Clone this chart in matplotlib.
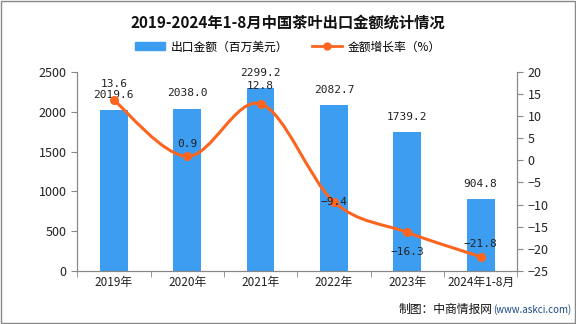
import numpy as np
import matplotlib
matplotlib.use('Agg')
import matplotlib.pyplot as plt
from matplotlib.path import Path
from matplotlib.patches import PathPatch, Patch
from matplotlib.lines import Line2D

plt.rcParams['font.family'] = ['Noto Sans CJK SC', 'DejaVu Sans']
plt.rcParams['axes.unicode_minus'] = False

categories = ['2019年', '2020年', '2021年', '2022年', '2023年', '2024年1-8月']
export_value = [2019.6, 2038.0, 2299.2, 2082.7, 1739.2, 904.8]
growth_rate = [13.6, 0.9, 12.8, -9.4, -16.3, -21.8]

bar_color = '#3d9df0'
line_color = '#fc6520'

fig = plt.figure(figsize=(5.76, 3.24), dpi=100)
ax = fig.add_axes([0.134, 0.164, 0.764, 0.614])
ax2 = ax.twinx()

x = np.arange(len(categories))
ax.bar(x, export_value, width=0.38, color=bar_color, zorder=2)
ax.set_xlim(-0.5, len(categories) - 0.5)
ax.set_ylim(0, 2500)
ax.set_yticks(range(0, 2501, 500))
ax.set_xticks(x)
ax.set_xticklabels(categories, fontsize=8.5)
ax2.set_ylim(-25, 20)
ax2.set_yticks(range(-25, 21, 5))
ax2.set_yticklabels([str(v).replace('-', '−') for v in range(-25, 21, 5)])

for a in (ax, ax2):
    a.spines['top'].set_visible(False)
    a.tick_params(colors='#888888', labelcolor='#222222', labelsize=9, length=4, width=0.8)
    for s in ('left', 'right', 'bottom'):
        a.spines[s].set_color('#888888')
ax.tick_params(axis='x', labelsize=8.5)
ax.set_xticks(np.arange(-0.5, len(categories), 1.0), minor=True)
ax.tick_params(axis='x', which='major', length=0)
ax.tick_params(axis='x', which='minor', length=4, color='#888888')

# smooth curve through the points (Catmull-Rom as cubic Bezier)
pts = np.column_stack([x, growth_rate]).astype(float)
verts = [tuple(pts[0])]
codes = [Path.MOVETO]
for i in range(len(pts) - 1):
    p0 = pts[i - 1] if i > 0 else pts[i]
    p1, p2 = pts[i], pts[i + 1]
    p3 = pts[i + 2] if i + 2 < len(pts) else pts[i + 1]
    c1 = p1 + (p2 - p0) / 6.0
    c2 = p2 - (p3 - p1) / 6.0
    verts += [tuple(c1), tuple(c2), tuple(p2)]
    codes += [Path.CURVE4] * 3
ax2.add_patch(PathPatch(Path(verts, codes), fill=False, edgecolor=line_color, lw=2.2, zorder=3))
ax2.plot(x, growth_rate, 'o', color=line_color, ms=5.5, zorder=4)

for xi, v in zip(x, export_value):
    ax.annotate(f'{v:.1f}', (xi, v), xytext=(0, 11), textcoords='offset points',
                ha='center', va='center', fontsize=8, color='#222222', family='DejaVu Sans Mono')
rate_offsets = [12, 9, 13, 0, -14, 9.5]
for xi, r, dy in zip(x, growth_rate, rate_offsets):
    ax2.annotate(f'{r:.1f}'.replace('-', '−'), (xi, r), xytext=(0, dy), textcoords='offset points',
                 ha='center', va='center', fontsize=8, color='#222222',
                 family='DejaVu Sans Mono', zorder=5)

fig.text(0.5, 0.93, '2019-2024年1-8月中国茶叶出口金额统计情况', ha='center', va='center',
         fontsize=11, fontweight='bold', color='#111111')
handles = [Patch(color=bar_color, label='出口金额（百万美元）'),
           Line2D([0], [0], color=line_color, lw=2, marker='o', ms=5, label='金额增长率（%）')]
fig.legend(handles=handles, loc='center', bbox_to_anchor=(0.5, 0.855), ncol=2, frameon=False,
           fontsize=8.5, handlelength=2.5, columnspacing=2.0, handletextpad=0.5)
fig.text(0.855, 0.045, '制图：中商情报网', ha='right', va='center', fontsize=8.5, color='#111111')
fig.text(0.856, 0.045, '(www.askci.com)', ha='left', va='center', fontsize=7, color='#1a4a8a')

border = plt.Rectangle((0.001, 0.002), 0.997, 0.995, transform=fig.transFigure, fill=False,
                       edgecolor='#888888', lw=1)
fig.patches.append(border)

fig.savefig('out.png', dpi=100)
